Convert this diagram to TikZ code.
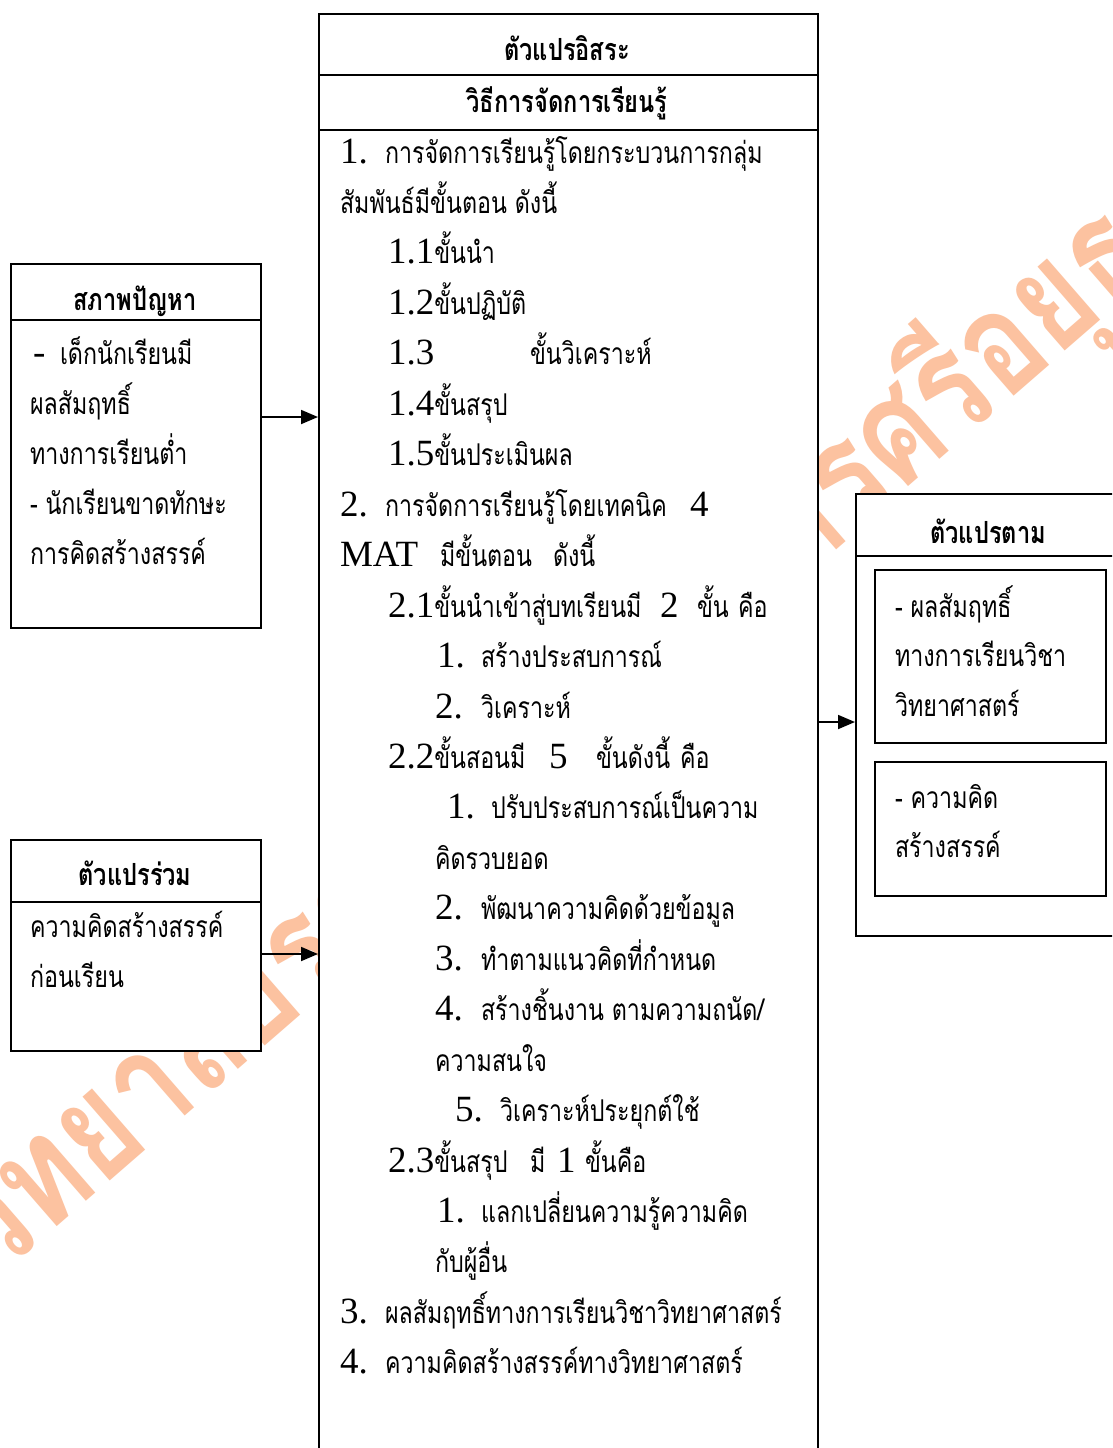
\documentclass[tikz,border=0pt]{standalone}
\usepackage{fontspec}
\usepackage{graphicx}
\setmainfont{Liberation Serif}
\newfontfamily\thaifont[Script=Thai,FakeStretch=0.775]{Loma}
\newfontfamily\wmfont[Script=Thai]{Loma}
\usetikzlibrary{arrows.meta}
\definecolor{wm}{RGB}{252,194,160}
\newcommand\T[1]{{\thaifont\fontsize{30}{50}\selectfont #1}}
\newcommand\TB[1]{{\thaifont\bfseries\fontsize{30.5}{50}\selectfont #1}}
\newcommand\Lt[1]{{\fontsize{37}{50}\selectfont #1}}
\newcommand\putt[4]{\node[txt] (#1) at (#2,#3) {#4};}
\begin{document}
\begin{tikzpicture}[x=1pt,y=-1pt,
  txt/.style={anchor=base west,inner sep=0pt,outer sep=0pt},
  ttl/.style={anchor=base,inner sep=0pt,outer sep=0pt},
  boxs/.style={draw,line width=2pt,fill=white,inner sep=0pt,anchor=north west},
  hline/.style={line width=2pt},
  arr/.style={line width=1.8pt,-{Triangle[length=17pt,width=14pt]}}]
\path[use as bounding box] (0,0) rectangle (1112,1448);
\clip (0,0) rectangle (1112,1448);
\fill[white] (0,0) rectangle (1112,1448);
% watermark
\node[rotate=41,text=wm,inner sep=0pt] (wmark) at (518,770)
  {\scalebox{1}[1.25]{\resizebox{1900pt}{!}{\wmfont\bfseries มหาวิทยาลัยราชภัฏพระนครศรีอยุธยา}}};
% boxes
\node[boxs,minimum width=499pt,minimum height=1500pt] (ind) at (318,13) {};
\node[boxs,minimum width=250pt,minimum height=364pt] (prob) at (10,263) {};
\node[boxs,minimum width=250pt,minimum height=211pt] (cov) at (10,839) {};
\node[boxs,minimum width=270pt,minimum height=442pt] (dep) at (855,493) {};
\node[boxs,minimum width=231pt,minimum height=173pt] (dep1) at (874,569) {};
\node[boxs,minimum width=231pt,minimum height=134pt] (dep2) at (874,761) {};
% header lines
\coordinate (h1) at (0,75);
\coordinate (h2) at (0,130);
\coordinate (h3) at (0,320);
\coordinate (h4) at (0,902);
\coordinate (h5) at (0,556);
\draw[hline] (ind.west |- h1) -- (ind.east |- h1);
\draw[hline] (ind.west |- h2) -- (ind.east |- h2);
\draw[hline] (prob.west |- h3) -- (prob.east |- h3);
\draw[hline] (cov.west |- h4) -- (cov.east |- h4);
\draw[hline] (dep.west |- h5) -- (dep.east |- h5);
% arrows
\coordinate (r1) at (0,417);
\coordinate (r2) at (0,954);
\coordinate (r3) at (0,722);
\draw[arr] (prob.east |- r1) -- (ind.west |- r1);
\draw[arr] (cov.east |- r2) -- (ind.west |- r2);
\draw[arr] (ind.east |- r3) -- (dep.west |- r3);
% titles
\node[ttl] (t1) at (567,60) {\TB{ตัวแปรอิสระ}};
\node[ttl] (t2) at (567,112) {\TB{วิธีการจัดการเรียนรู้}};
\node[ttl] (t3) at (135,310) {\TB{สภาพปัญหา}};
\node[ttl] (t4) at (135,885) {\TB{ตัวแปรร่วม}};
\node[ttl] (t5) at (988,543) {\TB{ตัวแปรตาม}};
% left box 1
\putt{p1a}{33}{364}{\Lt{-}}
\putt{p1b}{60}{364}{\T{เด็กนักเรียนมี}}
\putt{p2}{30}{414}{\T{ผลสัมฤทธิ์}}
\putt{p3}{30}{464}{\T{ทางการเรียนต่ำ}}
\putt{p4}{30}{514}{\T{- นักเรียนขาดทักษะ}}
\putt{p5}{30}{564}{\T{การคิดสร้างสรรค์}}
% left box 2
\putt{q1}{30}{937}{\T{ความคิดสร้างสรรค์}}
\putt{q2}{30}{987}{\T{ก่อนเรียน}}
% right boxes
\putt{d1}{895}{617}{\T{- ผลสัมฤทธิ์}}
\putt{d2}{895}{666}{\T{ทางการเรียนวิชา}}
\putt{d3}{895}{716}{\T{วิทยาศาสตร์}}
\putt{d4}{895}{808}{\T{- ความคิด}}
\putt{d5}{895}{857}{\T{สร้างสรรค์}}
% centre box
\putt{c0a}{340}{163}{\Lt{1.}}
\putt{c0b}{385}{163}{\T{การจัดการเรียนรู้โดยกระบวนการกลุ่ม}}
\putt{c1}{340}{213.5}{\T{สัมพันธ์มีขั้นตอน ดังนี้}}
\putt{c2}{388}{263.9}{\Lt{1.1}\T{ขั้นนำ}}
\putt{c3}{388}{314.4}{\Lt{1.2}\T{ขั้นปฏิบัติ}}
\putt{c4a}{388}{364.8}{\Lt{1.3}}
\putt{c4b}{530}{364.8}{\T{ขั้นวิเคราะห์}}
\putt{c5}{388}{415.3}{\Lt{1.4}\T{ขั้นสรุป}}
\putt{c6}{388}{465.7}{\Lt{1.5}\T{ขั้นประเมินผล}}
\putt{c7a}{340}{516.2}{\Lt{2.}}
\putt{c7b}{385}{516.2}{\T{การจัดการเรียนรู้โดยเทคนิค}}
\putt{c7c}{690}{516.2}{\Lt{4}}
\putt{c8a}{340}{566.6}{\Lt{MAT}}
\putt{c8b}{440}{566.6}{\T{มีขั้นตอน}}
\putt{c8c}{553}{566.6}{\T{ดังนี้}}
\putt{c9a}{388}{617.1}{\Lt{2.1}\T{ขั้นนำเข้าสู่บทเรียนมี}}
\putt{c9b}{660}{617.1}{\Lt{2}}
\putt{c9c}{697}{617.1}{\T{ขั้น}}
\putt{c9d}{738}{617.1}{\T{คือ}}
\putt{c10a}{437}{667.5}{\Lt{1.}}
\putt{c10b}{481}{667.5}{\T{สร้างประสบการณ์}}
\putt{c11a}{435}{718}{\Lt{2.}}
\putt{c11b}{481}{718}{\T{วิเคราะห์}}
\putt{c12a}{388}{768.4}{\Lt{2.2}\T{ขั้นสอนมี}}
\putt{c12b}{549}{768.4}{\Lt{5}}
\putt{c12c}{596}{768.4}{\T{ขั้นดังนี้}}
\putt{c12d}{680}{768.4}{\T{คือ}}
\putt{c13a}{447}{818.9}{\Lt{1.}}
\putt{c13b}{491}{818.9}{\T{ปรับประสบการณ์เป็นความ}}
\putt{c14}{435}{869.3}{\T{คิดรวบยอด}}
\putt{c15a}{435}{919.8}{\Lt{2.}}
\putt{c15b}{481}{919.8}{\T{พัฒนาความคิดด้วยข้อมูล}}
\putt{c16a}{435}{970.2}{\Lt{3.}}
\putt{c16b}{481}{970.2}{\T{ทำตามแนวคิดที่กำหนด}}
\putt{c17a}{435}{1020.7}{\Lt{4.}}
\putt{c17b}{481}{1020.7}{\T{สร้างชิ้นงาน ตามความถนัด/}}
\putt{c18}{435}{1071.1}{\T{ความสนใจ}}
\putt{c19a}{455}{1121.6}{\Lt{5.}}
\putt{c19b}{500}{1121.6}{\T{วิเคราะห์ประยุกต์ใช้}}
\putt{c20a}{388}{1172}{\Lt{2.3}\T{ขั้นสรุป}}
\putt{c20b}{530}{1172}{\T{มี}}
\putt{c20c}{557}{1172}{\Lt{1}}
\putt{c20d}{585}{1172}{\T{ขั้นคือ}}
\putt{c21a}{437}{1222.5}{\Lt{1.}}
\putt{c21b}{481}{1222.5}{\T{แลกเปลี่ยนความรู้ความคิด}}
\putt{c22}{435}{1272.9}{\T{กับผู้อื่น}}
\putt{c23a}{340}{1323.4}{\Lt{3.}}
\putt{c23b}{385}{1323.4}{\T{ผลสัมฤทธิ์ทางการเรียนวิชาวิทยาศาสตร์}}
\putt{c24a}{340}{1373.8}{\Lt{4.}}
\putt{c24b}{385}{1373.8}{\T{ความคิดสร้างสรรค์ทางวิทยาศาสตร์}}
\end{tikzpicture}
\end{document}
